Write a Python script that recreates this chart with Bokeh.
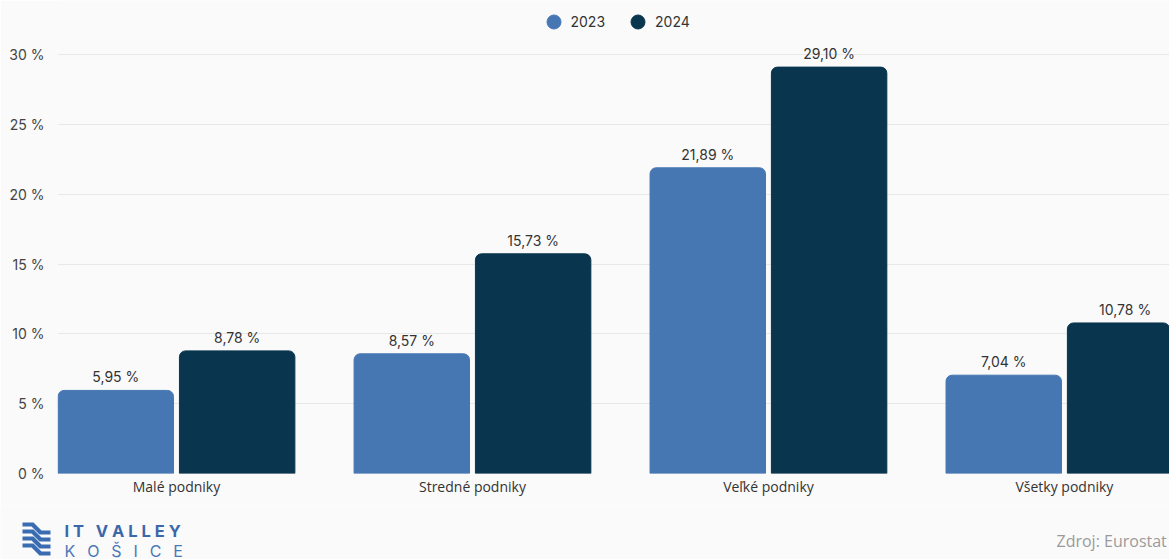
from bokeh.plotting import figure
from bokeh.layouts import column
from bokeh.models import (ColumnDataSource, FixedTicker, Legend, LegendItem, Label, Range1d,
                          PolyAnnotation)
from bokeh.core.properties import value
from bokeh.embed import file_html
from bokeh.resources import INLINE

categories = ["Malé podniky", "Stredné podniky", "Veľké podniky", "Všetky podniky"]
years = ["2023", "2024"]
values_2023 = [5.95, 8.57, 21.89, 7.04]
values_2024 = [8.78, 15.73, 29.10, 10.78]
y_ticks = [0, 5, 10, 15, 20, 25, 30]
y_tick_labels = ["0 %", "5 %", "10 %", "15 %", "20 %", "25 %", "30 %"]
colors = ["#4677b3", "#0a354e"]
source_text = "Zdroj: Eurostat"
logo_line1 = "IT VALLEY"
logo_line2 = "KOŠICE"

BG = "#fafafa"
FONT = "Inter"
W, H = 1169, 559
MAIN_H = 505
FL, FT, FB = 57, 0, 473  # frame left / top / bottom (canvas px)

p = figure(width=W, height=MAIN_H, output_backend="svg", toolbar_location=None,
           x_range=Range1d(-0.402, 3.355), y_range=Range1d(0, 33.87),
           min_border_left=FL, min_border_right=0, min_border_top=FT,
           min_border_bottom=MAIN_H - FB,
           background_fill_color=BG, border_fill_color=BG)
p.frame_align = False
p.outline_line_color = None
p.xgrid.grid_line_color = None
p.ygrid.grid_line_color = "#e8e8e8"
p.ygrid.ticker = FixedTicker(ticks=y_ticks)

offsets = [-0.205, 0.205]
width = 0.39
renderers = []
for j, vals in enumerate([values_2023, values_2024]):
    xs = [i + offsets[j] for i in range(len(categories))]
    labels = [("%.2f" % v).replace(".", ",") + " %" for v in vals]
    src = ColumnDataSource(dict(x=xs, top=vals, label=labels))
    p.vbar(x="x", top="top", width=width, bottom=0, source=src, fill_color=colors[j],
           line_color=colors[j], line_width=1, border_radius=(6, 6, 0, 0))
    p.text(x="x", y="top", text="label", source=src, text_align="center",
           text_baseline="bottom", y_offset=-5, text_font_size="14px",
           text_color="#333333", text_font=value(FONT))
    r = p.scatter(x=[0], y=[-10], size=14, marker="circle", fill_color=colors[j],
                  line_color=colors[j])
    renderers.append(r)

legend = Legend(items=[LegendItem(label=years[k], renderers=[renderers[k]]) for k in range(2)],
                orientation="horizontal", location=(535.5 - FL, FB - 38.5),
                background_fill_alpha=0, border_line_alpha=0,
                label_text_font_size="14px", label_text_color="#333333", label_text_font=FONT,
                glyph_width=35, glyph_height=35, label_height=35, spacing=15, padding=0,
                margin=0, label_standoff=-5)
p.add_layout(legend, "center")

# axes
p.xaxis.ticker = FixedTicker(ticks=list(range(len(categories))))
p.xaxis.major_label_overrides = {i: c for i, c in enumerate(categories)}
p.xaxis.axis_line_color = None
p.xaxis.major_tick_line_color = None
p.xaxis.minor_tick_line_color = None
p.xaxis.major_label_text_font_size = "14px"
p.xaxis.major_label_text_color = "#333333"
p.xaxis.major_label_text_font = "Open Sans"
p.xaxis.major_label_standoff = -3

p.yaxis.ticker = FixedTicker(ticks=y_ticks)
p.yaxis.major_label_overrides = {t: l for t, l in zip(y_ticks, y_tick_labels)}
p.yaxis.axis_line_color = None
p.yaxis.major_tick_line_color = None
p.yaxis.minor_tick_line_color = None
p.yaxis.major_label_text_font_size = "14px"
p.yaxis.major_label_text_color = "#444444"
p.yaxis.major_label_text_font = FONT
p.yaxis.major_label_standoff = 7

# footer strip: logo and source note (coordinates = canvas pixels)
f = figure(width=W, height=H - MAIN_H, output_backend="svg", toolbar_location=None,
           x_range=Range1d(0, W), y_range=Range1d(H, MAIN_H),
           min_border_left=0, min_border_right=0, min_border_top=0, min_border_bottom=0,
           background_fill_color=BG, border_fill_color=BG)
f.frame_align = False
f.axis.visible = False
f.grid.visible = False
f.outline_line_color = None

f.add_layout(Label(x=1056, y=540, text=source_text, text_baseline="middle",
                   text_font_size="16px", text_color="#9a9a9a", text_font="Open Sans"))
f.add_layout(Label(x=64, y=530, text="\u00a0".join(logo_line1), text_baseline="middle",
                   text_font_size="16.5px", text_font_style="bold", text_color="#3a68aa",
                   text_font=FONT))
f.add_layout(Label(x=64, y=550, text="\u00a0\u00a0\u2009".join(logo_line2),
                   text_baseline="middle", text_font_size="16px", text_color="#4a78b8",
                   text_font=FONT))

# logo icon: four stepped stripes
for k in range(4):
    y0 = 522 + 7 * k
    pts = [(22, y0), (33, y0), (41, y0 + 8), (50, y0 + 8), (50, y0 + 12), (39, y0 + 12),
           (31, y0 + 4), (22, y0 + 4)]
    f.add_layout(PolyAnnotation(xs=[a for a, b in pts], ys=[b for a, b in pts],
                                fill_color="#3a6cb2", fill_alpha=1, line_color=None))

layout = column(p, f, spacing=0)
open("out.html", "w").write(file_html(layout, INLINE))
